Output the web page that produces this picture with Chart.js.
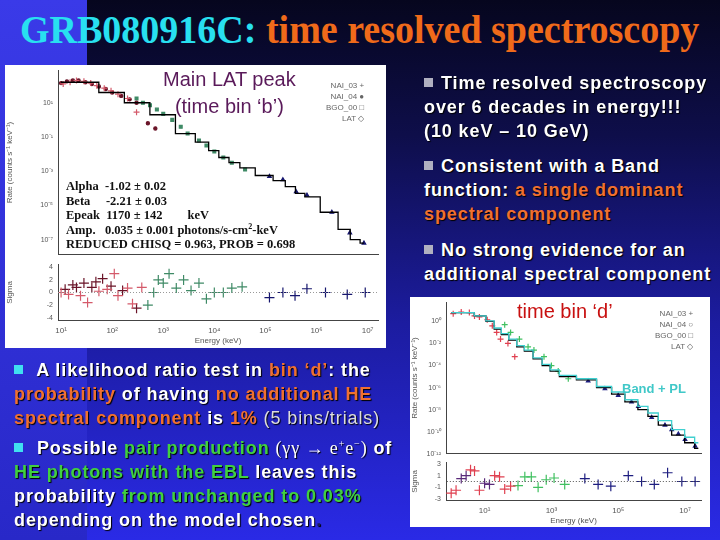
<!DOCTYPE html>
<html><head><meta charset="utf-8">
<script src="https://cdn.jsdelivr.net/npm/chart.js@4/dist/chart.umd.min.js"></script>
<style>
body{margin:0;width:720px;height:540px;overflow:hidden;font-family:Arial,"Liberation Sans",sans-serif;
 background:linear-gradient(180deg,#06061e 0%,#0e0e4a 25%,#1c1ca0 60%,#2a2ae6 100%);position:relative}
.strip{position:absolute;left:0;top:0;width:87px;height:540px;background:linear-gradient(180deg,#3a3ae8,#2828c8)}
.abs{position:absolute}
.panel{position:absolute;background:#fff}
canvas{position:absolute}
.title{left:20px;top:6px;font-family:"Liberation Serif",serif;font-weight:bold;font-size:40px;color:#f06a1a;white-space:nowrap;transform:scaleX(0.95);transform-origin:left}
.title span{color:#28e0f0}
.txt{color:#fff;font-weight:bold;font-size:18px;letter-spacing:0.9px;line-height:24px;text-shadow:1px 1px 1px #000;white-space:nowrap}
.o{color:#f07030}.g{color:#40d040}.lt{font-weight:normal;color:#ddd}
.b{display:inline-block;width:9px;height:9px;background:#40e0f0;margin-right:8px;vertical-align:2px}
.bg{background:#b0b0c0}
sup{line-height:0}
.par{left:66px;top:179px;font-family:"Liberation Serif",serif;font-weight:bold;font-size:12.5px;line-height:14.5px;color:#111;white-space:pre}
.leg{font-size:8px;color:#666;text-align:right;line-height:11px}
</style></head><body>
<div class="strip"></div>
<div class="abs title"><span>GRB080916C:</span> time resolved spectroscopy</div>
<div class="panel" style="left:5px;top:65px;width:381px;height:283px"></div>
<div class="panel" style="left:410px;top:297px;width:300px;height:230px"></div>
<canvas id="specB" width="380" height="195" style="left:5px;top:65px"></canvas>
<canvas id="resB" width="380" height="88" style="left:5px;top:258px"></canvas>
<canvas id="specD" width="298" height="162" style="left:410px;top:297px"></canvas>
<canvas id="resD" width="298" height="70" style="left:410px;top:456px"></canvas>
<div class="abs" style="left:163px;top:66px;font-size:20px;color:#5a1a5a;text-align:center;line-height:27px">Main LAT peak<br>(time bin ‘b’)</div>
<div class="abs leg" style="left:326px;top:80px">NAI_03 +<br>NAI_04 ●<br>BGO_00 □<br>LAT ◇</div>
<div class="abs par">Alpha  -1.02 ± 0.02
Beta     -2.21 ± 0.03
Epeak  1170 ± 142        keV
Amp.   0.035 ± 0.001 photons/s-cm<sup style="font-size:8px">2</sup>-keV
REDUCED CHISQ = 0.963, PROB = 0.698</div>
<div class="abs" style="left:517px;top:300px;font-size:20px;color:#c81010">time bin ‘d’</div>
<div class="abs leg" style="left:655px;top:308px">NAI_03 +<br>NAI_04 ○<br>BGO_00 □<br>LAT ◇</div>
<div class="abs" style="left:622px;top:381px;font-size:13px;font-weight:bold;color:#40c8c8">Band + PL</div>
<div class="abs txt" style="left:424px;top:71px"><span class="b bg"></span>Time resolved spectroscopy<br>over 6 decades in energy!!!<br>(10 keV – 10 GeV)</div>
<div class="abs txt" style="left:424px;top:154px"><span class="b bg"></span>Consistent with a Band<br>function: <span class="o">a single dominant</span><br><span class="o">spectral component</span></div>
<div class="abs txt" style="left:424px;top:238px"><span class="b bg"></span>No strong evidence for an<br>additional spectral component</div>
<div class="abs txt" style="left:14px;top:358px"><span class="b"></span> A likelihood ratio test in <span class="o">bin ‘d’</span>: the<br><span class="o">probability</span> of having <span class="o">no additional HE</span><br><span class="o">spectral component</span> is <span class="o">1%</span> <span class="lt">(5 bins/trials)</span></div>
<div class="abs txt" style="left:14px;top:436px"><span class="b"></span> Possible <span class="g">pair production</span> <span style="font-family:'Liberation Serif',serif;font-weight:normal">(γγ → e<sup style="font-size:10px">+</sup>e<sup style="font-size:10px">−</sup>)</span> of<br><span class="g">HE photons with the EBL</span> leaves this<br>probability <span class="g">from unchanged to 0.03%</span><br>depending on the model chosen<span style="color:#1a1a60">.</span></div>
<script>
// time bin b: energies in keV, rates as log10(counts/s/keV)
const bNai4E = [10, 13, 17, 22, 30, 40, 55, 75, 100, 150, 220, 300, 500, 700];
const bNai4R = [2.15, 2.25, 2.3, 2.3, 2.2, 2.1, 1.95, 1.8, 1.6, 1.4, 1.2, 1.0, -0.2, -0.5];
const bNai3E = [11, 15, 20, 28, 38, 50, 70, 95, 130, 200, 300];
const bNai3R = [2.1, 2.2, 2.3, 2.25, 2.15, 2.0, 1.85, 1.7, 1.5, 1.25, 0.45];
const bBgoE = [300, 400, 550, 750, 1000, 1500, 2200, 3000, 5000, 7000, 10000, 15000, 22000, 40000];
const bBgoR = [1.25, 1.0, 0.85, 0.6, 0.35, 0.0, -0.4, -0.8, -1.2, -1.5, -1.85, -2.2, -2.5, -2.9];
const bLatE = [120000, 220000, 400000, 650000, 2000000, 4500000, 8500000];
const bLatR = [-3.3, -3.5, -4.2, -4.4, -5.4, -6.6, -7.2];
const bModE = [10, 30, 100, 300, 1000, 3000, 6000, 10000, 15000, 25000, 40000, 100000, 200000, 300000, 500000, 700000, 2000000, 3500000, 6000000, 8500000];
const bModR = [2.2, 2.2, 1.6, 1.0, 0.3, -0.8, -1.3, -1.8, -2.2, -2.5, -2.8, -3.25, -3.55, -3.9, -4.3, -4.5, -5.4, -6.4, -7.0, -7.2];
const bResE = [10, 12, 14, 17, 20, 24, 28, 33, 40, 48, 55, 65, 80, 95, 110, 130, 160, 200, 250, 300, 380, 500, 650, 800, 1000, 1300, 1800, 2500, 3500, 5000, 7000, 10000, 15000, 22000, 35000, 120000, 220000, 380000, 650000, 1500000, 4000000, 9000000];
const bResV = [0.0, 0.5, -0.3, 1.2, 0.8, -0.5, 1.5, -1.6, 0.8, 1.7, 0.2, 2.2, 0.5, 1.0, 3.0, -0.5, 0.3, 0.7, -1.8, -2.5, 0.8, -2.0, 0.0, 2.0, 1.5, 3.0, 0.7, 2.0, 0.3, 1.5, -1.0, 0.0, 0.0, 0.7, 0.9, -0.8, 0.0, -0.5, 0.6, 0.0, -0.3, 0.0];
const bResC = [0,1,0,1,1,0,1,0,1,1,0,1,0,1,0,0,1,0,0,1,0,2,2,2,2,2,2,2,2,2,2,2,2,2,2,3,3,3,3,3,3,3];

// time bin d
const dNaiE = [1.15, 2.0, 3.5, 5.0, 7.0, 12, 17, 23, 30, 50, 80];
const dNaiR = [0.7, 0.85, 0.8, 0.5, 0.4, 0.15, -0.4, -1.0, -1.6, -2.0, -3.2];
const dBgoE = [40, 60, 110, 200, 300, 600, 1000, 1600, 3200];
const dBgoR = [-0.3, -1.0, -1.6, -2.3, -2.6, -3.2, -4.0, -4.5, -5.2];
const dLatE = [12600, 40000, 100000, 250000, 400000, 1000000, 2500000, 4000000, 6300000, 10000000, 20000000];
const dLatR = [-5.4, -6.1, -6.7, -7.3, -7.7, -8.7, -9.4, -9.8, -10.2, -10.7, -11.3];
const dModE = [1.0, 3, 8, 15, 25, 40, 70, 120, 200, 400, 700, 1200, 2500, 12600, 40000, 100000, 250000, 600000, 1000000, 2500000, 6300000, 15000000, 25000000];
const dModR = [0.8, 0.8, 0.5, 0.0, -0.7, -1.2, -1.7, -2.3, -2.7, -3.4, -4.0, -4.5, -5.0, -5.3, -6.0, -6.6, -7.3, -8.0, -8.6, -9.4, -10.3, -11.0, -11.5];
const dPlR = [0.8, 0.8, 0.5, 0.05, -0.6, -1.1, -1.6, -2.2, -2.6, -3.3, -3.9, -4.4, -4.9, -5.2, -5.9, -6.4, -7.1, -7.7, -8.3, -9.0, -9.8, -10.5, -11.0];
const dResE = [1.0, 1.4, 2.0, 2.8, 3.8, 5, 7, 10, 14, 20, 28, 40, 60, 100, 160, 250, 400, 700, 1200, 2500, 10000, 25000, 60000, 200000, 500000, 1200000, 3000000, 8000000, 20000000];
const dResV = [-2.0, -1.5, 0.5, 1.0, 2.0, 1.8, -1.5, -0.3, -0.5, 1.0, 0.8, -1.3, -0.8, -0.7, 0.8, 0.8, -1.0, 0.3, 0.6, -0.5, 0.5, -0.5, -0.8, 1.0, 0.0, -0.5, 1.5, 0.0, 0.0];
const dResC = [1,1,0,0,1,1,1,0,0,1,1,1,1,2,2,2,2,2,2,2,3,3,3,3,3,3,3,3,3];

const bColors = ['#d45a6a', '#6a1428', '#3f8a66', '#16166e'];
const dColors = ['#5a2a7a', '#e04050', '#40c060', '#1e1e80'];

const pts = (E, R) => E.map((e, i) => ({ x: e, y: Math.pow(10, R[i]) }));
const rpts = (E, V) => E.map((e, i) => ({ x: e, y: V[i] }));
const sup = { '-': '⁻', '0': '⁰', '1': '¹', '2': '²', '3': '³', '4': '⁴', '5': '⁵', '6': '⁶', '7': '⁷', '8': '⁸', '9': '⁹' };
const pow10 = v => { const l = Math.round(Math.log10(v)); return '10' + String(l).split('').map(c => sup[c]).join(''); };

function scat(data, color, style, r) {
  return { type: 'scatter', data, borderColor: color, backgroundColor: color, pointStyle: style, pointRadius: r, borderWidth: 1.2 };
}
function step(data, color) {
  return { type: 'line', data, borderColor: color, borderWidth: 1.3, stepped: 'middle', pointRadius: 0, fill: false };
}
function xAxis(min, max, ticks, show) {
  return {
    type: 'logarithmic', min, max, position: 'bottom',
    afterBuildTicks: s => { s.ticks = ticks.map(v => ({ value: v })); },
    ticks: { display: show, callback: v => pow10(v), font: { size: 8 }, color: '#555', maxRotation: 0, padding: 1 },
    grid: { display: false, drawTicks: true, tickLength: 4 },
    border: { color: '#444' },
    title: { display: show, text: 'Energy (keV)', font: { size: 8 }, color: '#555', padding: 0 }
  };
}
function yAxis(opts, w, label) {
  return Object.assign({
    afterFit: s => { s.width = w; },
    grid: { display: false, tickLength: 4 },
    border: { color: '#444' },
    ticks: { font: { size: 7 }, color: '#555', padding: 1 },
    title: { display: true, text: label, font: { size: 8 }, color: '#555', padding: 0 }
  }, opts);
}
function make(id, datasets, x, y, pad) {
  new Chart(document.getElementById(id), {
    data: { datasets },
    options: {
      responsive: false, animation: false,
      layout: { padding: pad },
      plugins: { legend: { display: false }, tooltip: { enabled: false } },
      scales: { x, y }
    }
  });
}

const bTicks = [10, 100, 1e3, 1e4, 1e5, 1e6, 1e7];
make('specB', [
  step(pts(bModE, bModR), '#000'),
  scat(pts(bNai3E, bNai3R), bColors[0], 'cross', 3),
  scat(pts(bNai4E, bNai4R), bColors[1], 'circle', 1.6),
  scat(pts(bBgoE, bBgoR), bColors[2], 'rect', 2),
  scat(pts(bLatE, bLatR), bColors[3], 'triangle', 2)
], xAxis(8.7, 1.6e7, bTicks, false),
  yAxis({ type: 'logarithmic', min: 1.3e-8, max: 800,
    afterBuildTicks: s => { s.ticks = [10, 0.1, 1e-3, 1e-5, 1e-7].map(v => ({ value: v })); },
    ticks: { font: { size: 7 }, color: '#555', padding: 1, callback: v => pow10(v) } }, 53, 'Rate (counts s⁻¹ keV⁻¹)'),
  { right: 7, top: 0, bottom: 0 });

const bRes = [0, 1, 2, 3].map(c => scat(rpts(bResE.filter((e, i) => bResC[i] === c), bResV.filter((v, i) => bResC[i] === c)), bColors[c], 'cross', 5));
make('resB', [{ type: 'line', data: [{ x: 8.7, y: 0 }, { x: 1.6e7, y: 0 }], borderColor: '#999', borderWidth: 1, borderDash: [1, 2], pointRadius: 0 }, ...bRes],
  xAxis(8.7, 1.6e7, bTicks, true),
  yAxis({ min: -4.5, max: 4.5, afterBuildTicks: s => { s.ticks = [4, 2, 0, -2, -4].map(v => ({ value: v })); } }, 53, 'Sigma'),
  { right: 7, top: 0, bottom: 0 });

const dTicks = [10, 1e3, 1e5, 1e7];
const dMin = Math.pow(10, -0.13), dMax = 3e7;
make('specD', [
  step(pts(dModE, dPlR), '#40d0d0'),
  step(pts(dModE, dModR), '#000'),
  scat(pts(dNaiE, dNaiR), dColors[1], 'cross', 3),
  scat(pts(dBgoE, dBgoR), dColors[2], 'cross', 3),
  scat(pts(dLatE, dLatR), dColors[3], 'triangle', 2)
], xAxis(dMin, dMax, dTicks, false),
  yAxis({ type: 'logarithmic', min: 1e-12, max: 55,
    afterBuildTicks: s => { s.ticks = [1, 1e-2, 1e-4, 1e-6, 1e-8, 1e-10, 1e-12].map(v => ({ value: v })); },
    ticks: { font: { size: 7 }, color: '#555', padding: 1, callback: v => pow10(v) } }, 36, 'Rate (counts s⁻¹ keV⁻¹)'),
  { right: 7, top: 3, bottom: 0 });

const dRes = [0, 1, 2, 3].map(c => scat(rpts(dResE.filter((e, i) => dResC[i] === c), dResV.filter((v, i) => dResC[i] === c)), dColors[c], 'cross', 5));
make('resD', [{ type: 'line', data: [{ x: dMin, y: 0 }, { x: dMax, y: 0 }], borderColor: '#555', borderWidth: 1, borderDash: [1, 2], pointRadius: 0 }, ...dRes],
  xAxis(dMin, dMax, dTicks, true),
  yAxis({ min: -3.3, max: 3.3, afterBuildTicks: s => { s.ticks = [3, 2, 1, 0, -1, -2, -3].map(v => ({ value: v })); } }, 36, 'Sigma'),
  { right: 7, top: 0, bottom: 0 });
</script>
</body></html>
